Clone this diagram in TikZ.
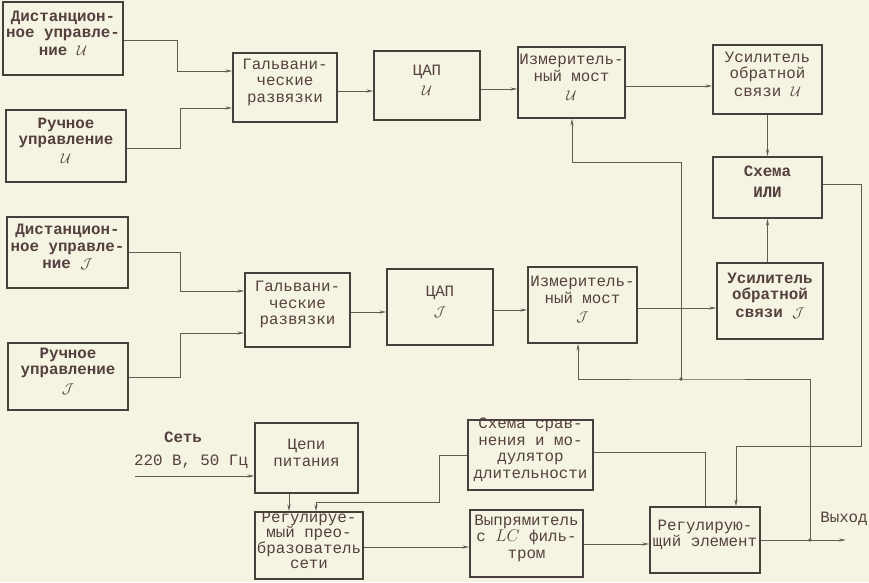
\documentclass[tikz,border=0pt]{standalone}
\usepackage{fontspec}
\setmainfont{Liberation Mono}
\usetikzlibrary{arrows.meta,fit}
\definecolor{paper}{RGB}{245,244,227}
\definecolor{ink}{RGB}{100,90,84}
\definecolor{typed}{RGB}{84,64,62}
\newcommand{\markU}{{\large$\mathcal{U}$}}
\newcommand{\markJ}{{\large$\mathcal{J}$}}

\begin{document}
\begin{tikzpicture}[x=0.3mm,y=-0.3mm]
		\tikzstyle{blk} = [draw=ink!70!black, line width=1.1pt, inner sep=0pt, align=center, text=typed, font=\fontsize{13.5}{14}\selectfont]
		\tikzstyle{blkb} = [blk, font=\fontsize{13.5}{14}\selectfont\bfseries]
		\tikzstyle{lbl} = [text=typed, inner sep=1pt, font=\fontsize{13.5}{14}\selectfont]
		\tikzstyle{ln} = [draw=ink, line width=0.75pt]
		\tikzstyle{es} = [-{Stealth[length=6pt,width=2.6pt]}]
		\fill[paper] (0,0) rectangle (869,582);
		\useasboundingbox (0,0) rectangle (869,582);
		% channel U
		\node (du) [blkb, fit={(3,2) (123,75)}] {Дистанцион-\\ное управле-\\[1pt]ние \markU};
		\node (ru) [blkb, fit={(6,110) (126,182)}] {Ручное\\управление\\[2pt]\markU};
		\node (galvu) [blk, fit={(233,53) (337,122)}] {Гальвани-\\ческие\\развязки};
		\node (dacu) [blk, fit={(374,51) (480,120)}] {ЦАП\\[3pt]\markU};
		\node (izmu) [blk, fit={(518,47) (625,118)}] {Измеритель-\\ный мост\\[2pt]\markU};
		\node (usu) [blk, fit={(713,45) (822,114)}] {Усилитель\\обратной\\[1pt]связи \markU};
		\node (ili) [blkb, fit={(713,157) (822,218)}] {Схема\\[4pt]ИЛИ};
		% channel I
		\node (di) [blkb, fit={(7,217) (128,288)}] {Дистанцион-\\ное управле-\\[1pt]ние \markJ};
		\node (ri) [blkb, fit={(8,343) (128,410)}] {Ручное\\управление\\[2pt]\markJ};
		\node (galvi) [blk, fit={(245,273) (350,347)}] {Гальвани-\\ческие\\развязки};
		\node (daci) [blk, fit={(387,269) (493,345)}] {ЦАП\\[3pt]\markJ};
		\node (izmi) [blk, fit={(528,267) (637,343)}] {Измеритель-\\ный мост\\[2pt]\markJ};
		\node (usi) [blkb, fit={(717,263) (823,339)}] {Усилитель\\обратной\\[1pt]связи \markJ};
		% power part
		\node (cepi) [blk, fit={(255,423) (358,493)}] {Цепи\\питания};
		\node (regconv) [blk, fit={(255,512) (363,579)}, font=\fontsize{13.5}{13}\selectfont] {Регулируе-\\мый прео-\\бразователь\\сети};
		\node (ss) [blk, fit={(468,420) (593,490)}] {Схема срав-\\нения и мо-\\дулятор\\длительности};
		\node (vypr) [blk, fit={(470,510) (583,577)}] {Выпрямитель\\с $LC$ филь-\\тром};
		\node (regel) [blk, fit={(650,507) (760,573)}] {Регулирую-\\щий элемент};
		\node (set) [lbl, font=\fontsize{13.5}{14}\selectfont\bfseries] at (183,437) {Сеть};
		\node (volt) [lbl] at (191,462) {220 В, 50 Гц};
		\node (vyhlbl) [lbl] at (844,519) {Выход};
		\coordinate (mains) at (135,476);
		\coordinate (jout) at (810,540);
		\coordinate (jfb) at (681,379);
		\coordinate (vyh) at (846,540);
		% links U
		\draw [ln,es] (du.east |- 0,40) -- (177,40) |- (galvu.west |- 0,71);
		\draw [ln,es] (ru.east |- 0,148) -- (180,148) |- (galvu.west |- 0,108);
		\draw [ln,es] (galvu.east |- 0,91) -- (dacu.west |- 0,91);
		\draw [ln,es] (dacu.east |- 0,89) -- (izmu.west |- 0,89);
		\draw [ln,es] (izmu.east |- 0,86) -- (usu.west |- 0,86);
		\draw [ln,es] (usu.south) -- (usu.south |- ili.north);
		% links I
		\draw [ln,es] (di.east |- 0,252) -- (180,252) |- (galvi.west |- 0,291);
		\draw [ln,es] (ri.east |- 0,377) -- (180,377) |- (galvi.west |- 0,333);
		\draw [ln,es] (galvi.east |- 0,312) -- (daci.west |- 0,312);
		\draw [ln,es] (daci.east |- 0,310) -- (izmi.west |- 0,310);
		\draw [ln,es] (izmi.east |- 0,308) -- (usi.west |- 0,308);
		\draw [ln,es] (usi.north -| ili.south) -- (ili.south);
		% feedback and output
		\draw [ln,es] (ili.east |- 0,184) -- (861,184) -- (861,446) -- (736,446) -- (736,0 |- regel.north);
		\draw [ln,es] (regel.east |- jout) -- (vyh);
		\draw [ln,es] (jout) -- (810,379) -- (jfb) -| (578,0 |- izmi.south);
		\draw [ln,es] (jfb) -- (681,162) -| (572,0 |- izmu.south);
		\fill [ink] (jout) circle [radius=1.6pt];
		\fill [ink] (jfb) circle [radius=1.6pt];
		% power links
		\draw [ln,es] (mains) -- (cepi.west |- mains);
		\draw [ln,es] (cepi.south -| 289,0) -- (289,0 |- regconv.north);
		\draw [ln,es] (ss.west |- 0,455) -- (439,455) -- (439,502) -| (316,0 |- regconv.north);
		\draw [ln] (ss.east |- 0,452) -- (705,452) -- (705,0 |- regel.north);
		\draw [ln,es] (regconv.east |- 0,547) -- (vypr.west |- 0,547);
		\draw [ln,es] (vypr.east |- 0,544) -- (regel.west |- 0,544);
\end{tikzpicture}
\end{document}
